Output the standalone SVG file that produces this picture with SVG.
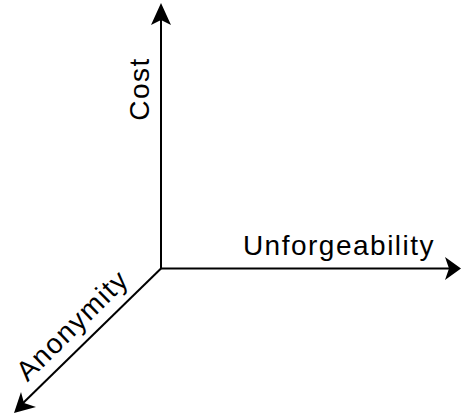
<svg xmlns="http://www.w3.org/2000/svg" width="461" height="416" viewBox="0 0 461 416">
<style>
.ax{stroke:#000;stroke-width:2;fill:none}
.head{fill:#000;stroke:none}
.lbl{font-family:"Liberation Sans",Arial,sans-serif;font-size:28px;letter-spacing:1.5px;fill:#000}
</style>
<rect width="461" height="416" fill="#fff"/>
<g id="connectors">
<line class="ax" x1="161" y1="269" x2="161" y2="18"/>
<path class="head" d="M161,3 L171,25 L161,20 L151,25 Z"/>
<line class="ax" x1="160" y1="268.5" x2="452" y2="268.5"/>
<path class="head" d="M461,268.5 L445,280 L449,268.5 L445,257 Z"/>
<line class="ax" x1="161" y1="268.5" x2="20" y2="406"/>
<path class="head" d="M14,413 L21,392 L24,403 L36,407 Z"/>
</g>
<g id="cost"><text class="lbl" transform="translate(149,89) rotate(-90)" text-anchor="middle">Cost</text></g>
<g id="unforgeability"><text class="lbl" x="339" y="255" text-anchor="middle">Unforgeability</text></g>
<g id="anonymity"><text class="lbl" transform="translate(79,332) rotate(-44.5)" text-anchor="middle">Anonymity</text></g>
</svg>
